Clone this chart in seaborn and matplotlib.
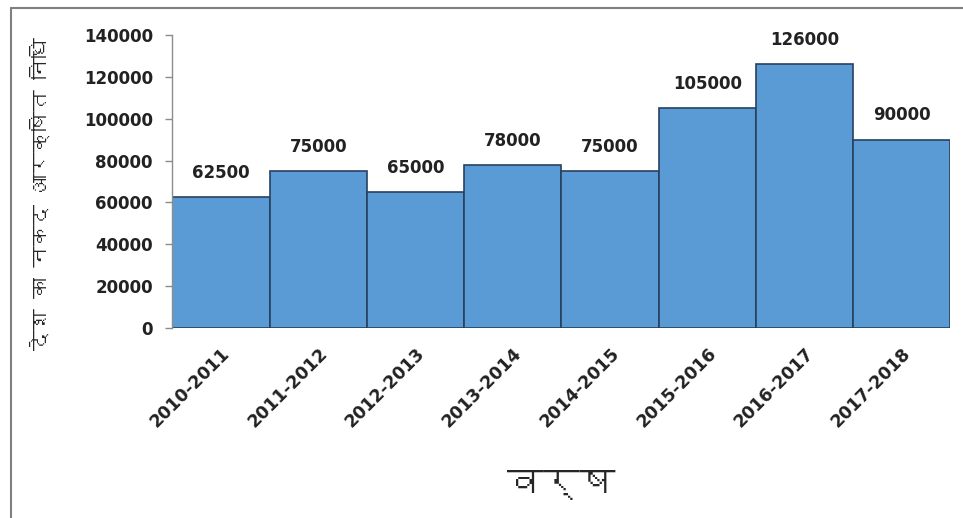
import matplotlib
matplotlib.use("Agg")
import matplotlib.pyplot as plt
from matplotlib import font_manager
from matplotlib.lines import Line2D
import seaborn as sns
import pandas as pd

years = ["2010-2011", "2011-2012", "2012-2013", "2013-2014",
         "2014-2015", "2015-2016", "2016-2017", "2017-2018"]
reserves = [62500, 75000, 65000, 78000, 75000, 105000, 126000, 90000]
y_ticks = [0, 20000, 40000, 60000, 80000, 100000, 120000, 140000]
x_title = "वर्ष"
y_title = "देश का नकद आरक्षित निधि"


def find_font(ch):
    try:
        from fontTools.ttLib import TTFont
    except Exception:
        return None
    for f in font_manager.fontManager.ttflist:
        try:
            tt = TTFont(f.fname, fontNumber=0, lazy=True)
            cmap = tt.getBestCmap()
            if cmap and ord(ch) in cmap:
                return f.name
        except Exception:
            continue
    return None


deva = find_font("व")
deva_family = ([deva] if deva else []) + ["DejaVu Sans"]

sns.set_theme(style="white")
plt.rcParams["font.family"] = ["DejaVu Sans"]

df = pd.DataFrame({"year": years, "value": reserves})

fig = plt.figure(figsize=(9.63, 5.18), dpi=100)
ax = fig.add_axes([0.179, 0.367, 0.808, 0.565])

sns.barplot(data=df, x="year", y="value", ax=ax, width=1.0,
            color="#5B9BD5", saturation=1, edgecolor="#27415F", linewidth=1.2)

ax.set_ylim(0, 140000)
ax.set_xlim(-0.5, len(years) - 0.5)
ax.set_yticks(y_ticks)
ax.set_yticklabels([str(v) for v in y_ticks], fontsize=12, fontweight="bold", color="#222222")
ax.set_xticks(range(len(years)))
ax.set_xticklabels(years, rotation=45, ha="right", rotation_mode="anchor",
                   fontsize=12.5, fontweight="bold", color="#222222")

for s in ["top", "right", "bottom"]:
    ax.spines[s].set_visible(False)
ax.spines["left"].set_color("#8c8c8c")
ax.spines["left"].set_linewidth(1.0)
ax.tick_params(axis="y", which="major", left=True, length=5, width=1, color="#8c8c8c", pad=9)
ax.tick_params(axis="x", which="major", bottom=False, pad=6)

for i, v in enumerate(reserves):
    ax.annotate(str(v), (i, v), xytext=(0, 11), textcoords="offset points",
                ha="center", va="bottom", fontsize=12, fontweight="bold", color="#222222")

ax.set_xlabel(x_title, fontsize=26, family=deva_family, labelpad=28)
ax.set_ylabel(y_title, fontsize=15, family=deva_family, labelpad=22)
ax.yaxis.set_label_coords(-0.156, 0.46)

# frame lines (top and left) of the original screenshot
fig.add_artist(Line2D([0.011, 1.0], [0.985, 0.985], transform=fig.transFigure,
                      color="#7f7f7f", linewidth=1.5))
fig.add_artist(Line2D([0.011, 0.011], [0.0, 0.985], transform=fig.transFigure,
                      color="#7f7f7f", linewidth=1.5))

fig.savefig("out.png", dpi=100)
